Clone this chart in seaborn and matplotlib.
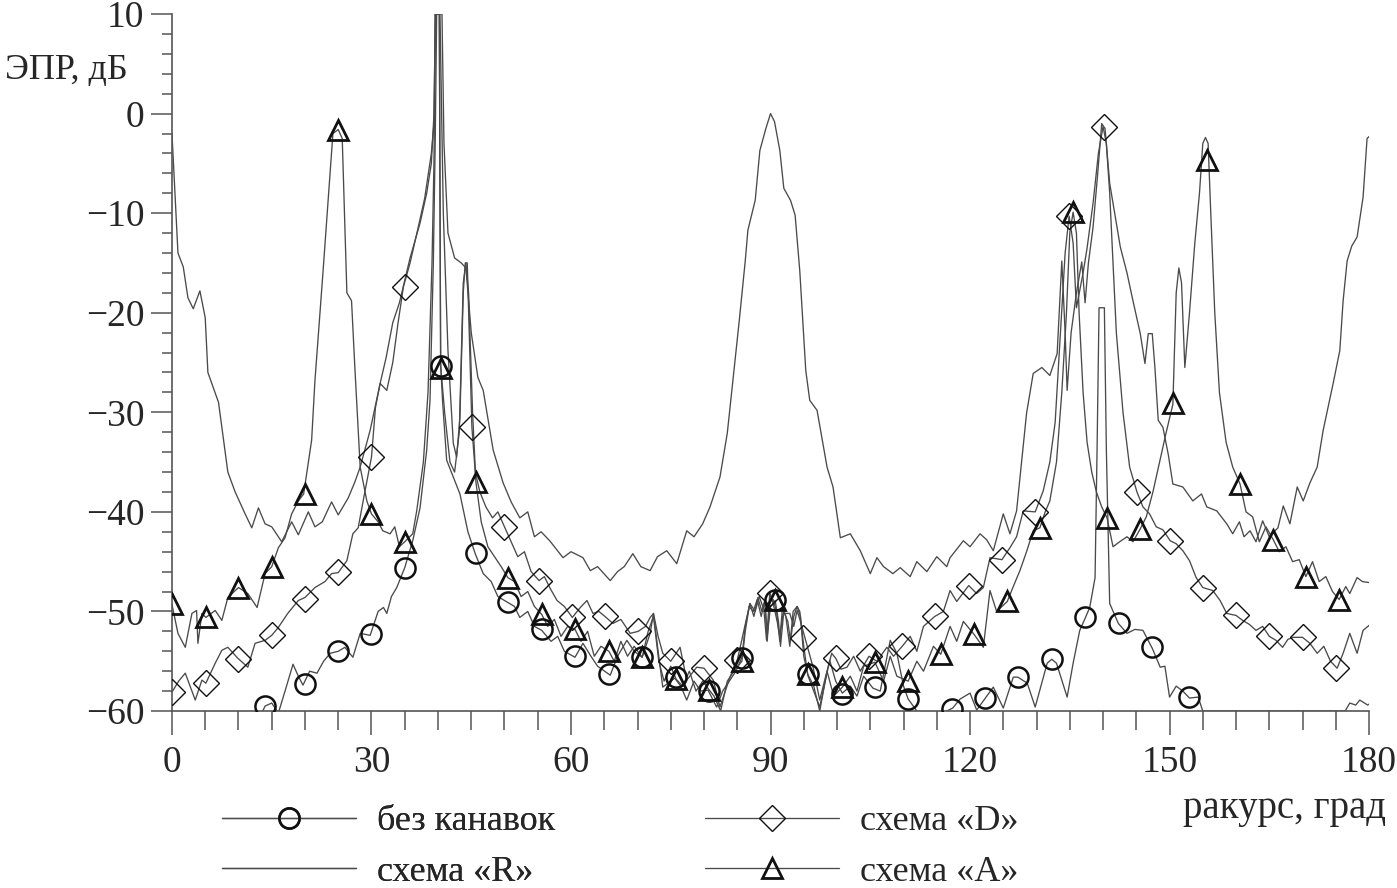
"""
RCS (ЭПР) vs aspect angle for four groove schemes.
Lines are drawn with seaborn, hollow markers are overlaid on top.
"""

import pandas as pd
import seaborn as sns
from matplotlib import pyplot as plt
from matplotlib.lines import Line2D

# ---------------------------------------------------------------- data
# (angle, dB); values below -60 are clipped by the view

NONE_CURVE = [(0, -62.0), (12.5, -62.0), (13.3, -60.5), (14.0, -59.5), (15.0, -59.2), (16.0, -60.2),
              (17.0, -58.0), (18.2, -55.3), (19.0, -56.5), (19.7, -57.4), (20.7, -56.0), (21.8, -56.2),
              (22.8, -55.0), (23.8, -54.2), (25.0, -54.0), (26.0, -53.6), (27.2, -54.6), (28.3, -52.2),
              (29.8, -52.4), (31.0, -50.0), (31.8, -49.6), (32.3, -50.2), (33.0, -48.5), (33.8, -47.6),
              (35.0, -45.6), (36.2, -42.9), (37.3, -39.6), (38.3, -33.8), (38.8, -28.8), (39.3, -15.0),
              (39.6, -2.0), (39.8, 10.0), (40.2, 10.0), (40.4, -25.3), (40.7, -29.0), (41.3, -34.8),
              (42.3, -36.5), (43.3, -38.2), (44.5, -42.0), (45.6, -44.2), (46.8, -46.2), (48.0, -47.0),
              (49.0, -48.5), (50.5, -49.1), (51.5, -49.5), (52.3, -50.6), (53.5, -50.0), (54.5, -51.5),
              (55.6, -51.9), (57.0, -53.0), (58.0, -52.5), (59.0, -54.0), (60.6, -54.6), (61.8, -53.2),
              (63.0, -54.5), (64.0, -55.5), (65.9, -56.4), (67.0, -54.5), (68.4, -52.9), (69.5, -54.0),
              (70.7, -54.6), (71.9, -52.2), (72.4, -50.2), (73.1, -54.0), (73.8, -57.6), (75.6, -56.7),
              (76.5, -57.5), (77.4, -58.9), (78.5, -57.0), (79.5, -58.0), (80.6, -57.9), (81.9, -59.6),
              (82.8, -58.0), (83.8, -57.0), (84.8, -56.0), (85.7, -54.6), (86.2, -51.5), (86.9, -49.2),
              (87.5, -50.5), (88.1, -48.6), (88.7, -50.0), (89.2, -48.8), (89.5, -53.0), (89.9, -49.0),
              (90.4, -48.8), (90.9, -50.0), (91.4, -53.0), (91.8, -49.5), (92.3, -50.5), (92.9, -53.5),
              (93.4, -50.0), (94.0, -49.5), (94.4, -50.0), (95.0, -53.5), (95.6, -56.4), (96.5, -58.0),
              (97.4, -59.6), (98.9, -54.9), (99.8, -57.0), (100.8, -58.2), (102.0, -57.5), (103.0, -58.5),
              (104.0, -56.5), (105.4, -57.7), (106.5, -58.0), (108.0, -52.9), (109.0, -54.2), (110.0, -57.5),
              (110.7, -58.8), (112.0, -60.0), (113.0, -61.0), (115.5, -61.0), (116.5, -60.0), (117.4, -59.7),
              (118.5, -58.8), (120.0, -58.2), (121.0, -59.9), (122.3, -58.7), (123.5, -57.6), (125.0, -59.7),
              (126.5, -56.6), (127.2, -56.6), (128.6, -57.2), (129.8, -59.6), (131.6, -55.2), (132.3, -54.8),
              (133.0, -55.2), (134.6, -58.6), (135.5, -55.2), (136.5, -51.9), (137.3, -50.7), (138.0, -49.6),
              (138.8, -46.6), (139.1, -33.8), (139.4, -19.5), (140.2, -19.5), (140.5, -33.8), (141.0, -49.2),
              (142.3, -51.2), (143.6, -52.2), (144.8, -51.8), (146.0, -51.9), (147.4, -53.7), (148.6, -55.6),
              (149.3, -55.5), (150.0, -58.6), (151.0, -57.5), (152.0, -58.0), (153.0, -58.7), (154.3, -58.6),
              (155.0, -60.0), (176.4, -60.0), (177.1, -59.2), (178.0, -59.4), (178.6, -58.9), (179.8, -59.4),
              (180.0, -59.3)]
NONE_MARKS = [(14.0, -59.5), (20.0, -57.3), (25.0, -54.0), (29.9, -52.3), (35.0, -45.6), (40.4, -25.3),
              (45.7, -44.1), (50.5, -49.1), (55.6, -51.8), (60.6, -54.5), (65.7, -56.3), (70.7, -54.6),
              (75.8, -56.6), (80.8, -58.0), (85.7, -54.7), (90.7, -48.8), (95.6, -56.3), (100.8, -58.3),
              (105.7, -57.6), (110.7, -58.8), (117.3, -59.8), (122.3, -58.7), (127.2, -56.6), (132.3, -54.8),
              (137.3, -50.6), (142.4, -51.2), (147.4, -53.6), (153.0, -58.6)]

R_CURVE = [(0, -2.0), (0.5, -8.7), (0.9, -14.0), (1.7, -15.4), (2.4, -18.5), (3.2, -19.6), (4.2, -17.8),
           (5.0, -20.5), (5.4, -26.0), (6.2, -27.5), (7.0, -29.0), (8.4, -36.0), (9.5, -38.0), (11.0, -40.2),
           (12.0, -41.6), (13.0, -39.6), (14.0, -41.2), (15.0, -41.5), (16.5, -43.0), (18.0, -41.0),
           (19.0, -42.3), (20.5, -40.0), (21.5, -41.5), (22.6, -41.0), (24.0, -39.0), (25.0, -40.3),
           (26.5, -38.6), (27.5, -37.0), (28.3, -35.5), (29.8, -31.8), (31.3, -27.1), (32.2, -24.5),
           (33.2, -21.0), (34.2, -19.0), (35.8, -14.5), (37.3, -11.0), (38.3, -8.0), (39.0, -5.0),
           (39.4, 0.0), (39.6, 10.0), (40.6, 10.0), (40.9, -3.0), (41.5, -12.0), (42.5, -14.5), (43.5, -15.0),
           (44.2, -15.5), (45.0, -22.0), (46.0, -26.5), (46.8, -27.8), (48.3, -33.8), (49.8, -37.1),
           (51.0, -39.0), (52.3, -40.6), (53.5, -40.0), (54.5, -42.5), (55.5, -42.0), (56.8, -42.9),
           (58.8, -44.6), (60.0, -44.0), (61.8, -44.6), (62.9, -45.9), (64.0, -45.5), (65.9, -46.9),
           (67.0, -46.0), (68.0, -45.5), (69.3, -44.2), (70.5, -45.5), (71.9, -45.9), (73.0, -44.5),
           (74.4, -43.9), (75.9, -45.2), (77.4, -41.9), (78.5, -42.5), (79.8, -41.2), (80.9, -39.5),
           (82.4, -36.5), (83.5, -32.1), (84.5, -25.8), (85.3, -20.8), (86.2, -14.8), (86.6, -11.7),
           (87.7, -8.7), (88.4, -3.7), (89.3, -1.5), (90.0, 0.0), (90.6, -0.8), (91.4, -3.7), (92.0, -7.5),
           (93.0, -8.7), (93.7, -10.2), (94.4, -15.8), (95.3, -25.8), (95.9, -28.8), (97.0, -29.8),
           (98.5, -35.5), (99.4, -37.5), (100.5, -42.6), (102.0, -42.2), (103.5, -43.9), (105.0, -46.2),
           (106.0, -44.6), (107.0, -45.5), (108.4, -46.2), (109.5, -45.6), (111.0, -46.5), (112.0, -45.0),
           (113.5, -46.0), (115.0, -44.5), (116.5, -45.5), (117.0, -44.6), (119.0, -42.9), (120.0, -43.5),
           (121.5, -42.2), (122.5, -42.8), (123.5, -43.9), (125.0, -40.2), (126.0, -42.2), (127.0, -39.9),
           (128.5, -30.1), (129.5, -26.1), (130.8, -25.5), (132.0, -26.3), (133.1, -24.1), (133.8, -14.8),
           (134.3, -22.0), (134.6, -27.8), (135.2, -22.0), (136.0, -18.0), (136.8, -14.9), (137.3, -19.0),
           (137.8, -15.0), (138.5, -11.4), (139.2, -6.0), (139.8, -1.0), (140.3, -1.5), (141.0, -7.0),
           (142.6, -13.4), (143.6, -16.0), (144.5, -18.8), (145.6, -22.1), (146.3, -25.1), (146.8, -22.1),
           (147.4, -22.1), (147.8, -25.5), (148.3, -30.8), (149.0, -31.5), (149.8, -34.2), (150.5, -37.2),
           (152.0, -37.5), (153.5, -38.9), (154.8, -38.2), (155.6, -39.5), (157.1, -39.9), (158.6, -41.2),
           (159.5, -42.2), (160.5, -41.0), (161.2, -42.5), (162.1, -41.9), (163.0, -43.0), (164.0, -40.9),
           (165.0, -42.5), (166.3, -41.6), (167.1, -39.4), (168.1, -41.2), (169.2, -37.5), (170.1, -38.9),
           (171.1, -37.1), (172.2, -35.5), (173.1, -31.8), (174.6, -27.1), (175.6, -23.8), (176.1, -18.8),
           (176.7, -14.8), (177.4, -13.3), (178.2, -12.4), (179.1, -8.4), (179.7, -2.5), (180.0, -2.3)]

D_CURVE = [(0.0, -58.1), (1.0, -57.0), (2.0, -56.2), (3.5, -58.9), (4.5, -56.9), (5.1, -57.2), (6.5, -55.2),
           (7.5, -53.9), (8.4, -53.6), (9.9, -54.7), (11.4, -55.6), (12.5, -53.2), (14.0, -52.9),
           (15.0, -52.4), (16.0, -51.6), (17.4, -50.2), (19.0, -48.9), (20.0, -48.6), (21.5, -47.6),
           (23.0, -47.0), (24.0, -46.2), (25.0, -46.1), (26.3, -44.9), (27.2, -42.2), (28.0, -41.6),
           (29.0, -38.0), (30.0, -34.5), (30.6, -29.5), (31.3, -27.1), (32.3, -27.8), (33.2, -25.0),
           (34.0, -21.0), (34.8, -17.4), (35.8, -15.0), (37.0, -11.5), (38.0, -8.5), (39.0, -4.0),
           (39.4, -1.0), (39.6, 10.0), (40.3, 10.0), (40.8, -10.0), (41.5, -23.8), (42.3, -33.1),
           (42.8, -34.5), (43.3, -30.5), (43.8, -18.0), (44.1, -15.0), (44.4, -15.0), (44.7, -22.0),
           (45.1, -31.5), (45.6, -36.0), (46.3, -38.0), (47.2, -39.5), (48.2, -40.6), (49.0, -40.0),
           (50.0, -41.5), (51.0, -43.0), (52.0, -44.5), (53.0, -44.0), (54.0, -46.0), (55.2, -46.9),
           (56.0, -46.5), (56.8, -47.6), (57.9, -48.9), (59.0, -49.5), (60.2, -50.6), (61.4, -49.6),
           (62.4, -48.9), (63.3, -50.2), (64.2, -50.0), (65.1, -50.5), (66.3, -51.2), (67.5, -50.8),
           (68.9, -52.2), (70.1, -52.0), (71.2, -51.5), (71.9, -50.6), (72.4, -50.2), (73.1, -52.5),
           (73.8, -54.2), (75.0, -55.0), (76.4, -53.6), (77.4, -56.9), (78.9, -55.6), (80.0, -55.7),
           (81.4, -56.9), (82.4, -59.6), (83.9, -56.6), (85.0, -54.9), (85.9, -52.2), (86.9, -49.2),
           (87.7, -50.0), (88.3, -48.5), (89.0, -49.8), (89.4, -52.9), (89.9, -48.1), (90.5, -49.5),
           (91.0, -51.0), (91.4, -52.5), (91.9, -50.2), (92.9, -50.2), (93.5, -51.5), (94.0, -49.9),
           (94.5, -51.0), (95.2, -52.7), (96.4, -55.6), (97.4, -58.9), (98.3, -56.5), (99.2, -54.2),
           (99.8, -54.7), (100.6, -55.8), (101.5, -55.6), (102.5, -54.5), (103.5, -56.0), (104.8, -54.5),
           (106.0, -55.0), (107.5, -53.6), (108.5, -54.5), (109.8, -53.5), (111.0, -52.5), (112.0, -54.0),
           (113.0, -51.5), (114.7, -50.5), (116.0, -50.0), (117.0, -47.9), (118.0, -49.0), (119.8, -47.4),
           (121.0, -48.2), (122.0, -47.6), (123.0, -44.6), (124.8, -44.8), (126.0, -43.6), (127.0, -42.5),
           (128.0, -39.9), (129.8, -40.0), (131.0, -37.9), (132.0, -35.0), (132.8, -31.0), (133.6, -22.0),
           (134.3, -14.0), (134.9, -10.3), (135.5, -13.0), (136.0, -19.5), (137.0, -16.0), (137.6, -13.5),
           (138.5, -9.0), (139.3, -4.0), (140.0, -1.3), (140.5, -3.0), (141.0, -8.0), (141.5, -15.0),
           (142.0, -22.0), (143.0, -30.0), (144.0, -35.5), (145.1, -38.0), (146.0, -39.5), (147.0, -40.2),
           (148.0, -41.5), (149.0, -41.8), (150.1, -42.9), (151.0, -43.2), (152.0, -43.9), (153.0, -44.9),
           (154.0, -46.6), (155.0, -47.6), (156.5, -47.9), (157.6, -48.9), (158.6, -50.2), (160.0, -50.4),
           (161.0, -50.9), (162.0, -51.3), (163.0, -51.9), (164.0, -51.5), (165.0, -52.5), (166.0, -52.9),
           (167.0, -53.6), (167.8, -52.8), (168.6, -52.6), (170.0, -52.6), (171.1, -53.2), (172.2, -54.2),
           (173.2, -53.5), (174.2, -55.0), (175.2, -55.7), (176.1, -54.2), (177.1, -52.2), (178.2, -54.2),
           (179.1, -51.9), (180.0, -51.4)]
D_MARKS = [(0.0, -58.1), (5.1, -57.2), (10.0, -54.8), (15.0, -52.4), (20.0, -48.7), (25.0, -46.0),
           (30.0, -34.5), (35.0, -17.4), (45.1, -31.5), (50.0, -41.5), (55.2, -46.9), (60.2, -50.6),
           (65.1, -50.5), (70.1, -52.0), (75.0, -55.0), (80.0, -55.7), (85.0, -54.9), (89.9, -48.1),
           (94.9, -52.7), (99.8, -54.7), (104.8, -54.5), (109.8, -53.5), (114.7, -50.5), (119.8, -47.4),
           (124.8, -44.8), (129.8, -40.0), (134.9, -10.3), (140.2, -1.3), (145.1, -38.0), (150.1, -42.9),
           (155.0, -47.6), (160.0, -50.4), (165.0, -52.5), (170.0, -52.6), (175.0, -55.7)]

A_CURVE = [(0.0, -49.3), (0.9, -52.2), (2.0, -53.6), (3.0, -50.2), (3.7, -49.9), (3.9, -53.2), (4.5, -50.2),
           (5.1, -50.6), (6.5, -49.9), (7.5, -50.9), (8.4, -48.6), (10.0, -47.6), (11.4, -48.2),
           (12.8, -49.6), (14.0, -46.2), (15.0, -45.5), (16.0, -43.6), (17.0, -42.6), (18.0, -40.2),
           (19.0, -38.9), (19.8, -38.2), (21.0, -32.8), (21.5, -26.8), (22.7, -16.0), (24.2, -2.0),
           (25.0, -1.6), (25.6, -2.5), (26.3, -18.0), (27.0, -18.8), (27.5, -25.5), (28.3, -35.5),
           (29.3, -38.9), (30.0, -40.2), (31.0, -41.0), (31.7, -41.9), (32.8, -42.2), (33.5, -41.5),
           (34.2, -43.5), (35.0, -43.0), (36.2, -42.2), (36.8, -39.9), (37.8, -35.0), (38.5, -28.0),
           (39.1, -15.0), (39.4, -4.7), (39.6, 10.0), (40.2, 10.0), (40.4, -25.3), (41.0, -30.0),
           (41.8, -35.0), (42.5, -36.0), (43.2, -32.0), (43.8, -17.0), (44.2, -15.0), (44.6, -18.0),
           (45.2, -30.0), (45.7, -37.0), (46.5, -41.0), (47.5, -43.5), (48.5, -44.5), (49.5, -45.5),
           (50.5, -46.6), (51.5, -47.0), (52.5, -48.5), (53.5, -48.0), (54.5, -49.5), (55.6, -50.3),
           (56.5, -51.5), (57.5, -50.8), (58.5, -52.5), (59.5, -51.5), (60.6, -51.8), (61.5, -53.0),
           (62.5, -52.0), (63.5, -54.5), (64.5, -53.5), (65.7, -54.0), (66.5, -55.0), (67.5, -53.0),
           (68.5, -54.5), (69.5, -53.5), (70.7, -54.6), (71.6, -52.0), (72.4, -50.5), (73.2, -55.0),
           (74.0, -57.0), (75.0, -55.5), (75.8, -56.8), (76.8, -57.5), (77.8, -56.0), (78.8, -58.0),
           (79.8, -57.0), (80.8, -57.9), (81.5, -58.5), (82.5, -60.0), (83.5, -57.0), (84.5, -56.0),
           (85.7, -55.0), (86.2, -52.0), (86.8, -49.5), (87.4, -50.0), (88.0, -48.8), (88.6, -50.5),
           (89.1, -49.0), (89.5, -52.5), (90.0, -49.5), (90.7, -48.9), (91.2, -51.0), (91.5, -53.5),
           (92.0, -50.0), (92.6, -51.0), (93.0, -53.0), (93.5, -50.5), (94.0, -49.5), (94.5, -50.5),
           (95.0, -54.5), (95.6, -56.3), (96.5, -57.5), (97.4, -60.0), (98.5, -56.0), (99.5, -58.5),
           (100.8, -57.6), (102.0, -56.5), (103.0, -58.0), (104.0, -55.5), (105.7, -55.1), (107.0, -57.0),
           (108.0, -54.5), (109.0, -56.5), (110.7, -57.0), (112.0, -55.0), (113.0, -56.0), (114.5, -53.5),
           (115.6, -54.3), (117.0, -51.5), (118.0, -53.0), (119.0, -51.0), (120.6, -52.3), (122.0, -53.6),
           (123.0, -47.9), (124.0, -50.0), (125.6, -49.0), (126.5, -47.5), (127.5, -45.9), (128.5, -44.0),
           (129.5, -41.9), (130.5, -41.6), (131.3, -40.0), (132.0, -38.9), (133.0, -35.0), (133.8, -28.0),
           (134.5, -20.0), (135.0, -12.0), (135.5, -9.9), (136.0, -12.0), (136.4, -20.0), (137.0, -28.0),
           (137.6, -33.0), (138.3, -36.0), (139.0, -38.0), (139.8, -39.5), (140.6, -40.6), (141.5, -43.5),
           (142.5, -43.0), (143.6, -42.5), (144.5, -43.0), (145.6, -41.7), (146.5, -40.5), (147.5, -38.0),
           (148.5, -35.0), (149.5, -32.0), (150.5, -29.2), (151.0, -18.0), (151.4, -15.5), (151.8, -17.0),
           (152.3, -25.5), (153.0, -20.0), (153.8, -13.0), (154.5, -8.0), (155.0, -3.0), (155.4, -2.4),
           (155.8, -3.0), (156.2, -10.0), (156.8, -20.0), (157.5, -28.0), (158.5, -33.0), (159.5, -35.5),
           (160.6, -37.2), (161.5, -40.0), (162.5, -40.5), (163.5, -43.0), (164.5, -41.5), (165.6, -42.8),
           (166.5, -44.0), (167.5, -43.5), (168.5, -45.0), (169.5, -44.8), (170.5, -46.5), (171.5, -45.0),
           (172.5, -47.0), (173.5, -46.5), (174.5, -48.0), (175.5, -48.8), (176.5, -47.5), (177.1, -48.2),
           (178.2, -46.6), (179.0, -47.0), (180.0, -47.1)]
A_MARKS = [(0.0, -49.3), (5.1, -50.6), (10.0, -47.6), (15.0, -45.5), (20.0, -38.2), (25.0, -1.6),
           (30.0, -40.2), (35.0, -43.0), (40.4, -25.5), (45.7, -37.0), (50.5, -46.6), (55.6, -50.3),
           (60.6, -51.8), (65.7, -54.0), (70.7, -54.6), (75.8, -56.8), (80.8, -57.9), (85.7, -55.0),
           (90.7, -48.9), (95.6, -56.3), (100.8, -57.6), (105.7, -55.1), (110.7, -57.0), (115.6, -54.3),
           (120.6, -52.3), (125.6, -49.0), (130.5, -41.6), (135.5, -9.9), (140.6, -40.6), (145.6, -41.7),
           (150.5, -29.1), (155.6, -4.7), (160.6, -37.2), (165.6, -42.8), (170.5, -46.5), (175.5, -48.8)]

LABELS = ["без канавок", "схема «R»", "схема «D»", "схема «A»"]
X_TICKS = [0, 30, 60, 90, 120, 150, 180]
Y_TICKS = [-60, -50, -40, -30, -20, -10, 0, 10]

# ---------------------------------------------------------------- style
sns.set_theme(style="white")
plt.rcParams["font.family"] = ["Liberation Serif", "DejaVu Serif"]
plt.rcParams["font.size"] = 26
plt.rcParams["axes.unicode_minus"] = True

LINE_COLOR = "#4a4a4a"
MARK_COLOR = "#111111"

fig = plt.figure(figsize=(13.97, 8.88), dpi=100)
ax = fig.add_axes([0.1231, 0.1993, 0.8569, 0.7849])

series = [
    (NONE_CURVE, NONE_MARKS, dict(marker="o", ms=14.5, mew=1.8)),
    (R_CURVE, None, None),
    (D_CURVE, D_MARKS, dict(marker="D", ms=13, mew=1.0)),
    (A_CURVE, A_MARKS, dict(marker="^", ms=15, mew=2.0)),
]

for curve, marks, mstyle in series:
    df = pd.DataFrame(curve, columns=["angle", "rcs"])
    sns.lineplot(data=df, x="angle", y="rcs", ax=ax, sort=False, estimator=None,
                 color=LINE_COLOR, lw=0.95, zorder=2)
    if marks is not None:
        mk = pd.DataFrame(marks, columns=["angle", "rcs"])
        ax.plot(mk["angle"], mk["rcs"], ls="none", mfc="none", mec=MARK_COLOR,
                zorder=3, clip_on=True, **mstyle)

ax.set_xlim(0, 180)
ax.set_ylim(-60, 10)
ax.set_xticks(X_TICKS)
ax.set_xticks(range(0, 181, 5), minor=True)
ax.set_yticks(Y_TICKS)
ax.set_yticks(range(-60, 11, 2), minor=True)
ax.set_xlabel("")
ax.set_ylabel("")

for side in ["top", "right"]:
    ax.spines[side].set_visible(False)
for side in ["left", "bottom"]:
    ax.spines[side].set_color("#555555")
    ax.spines[side].set_linewidth(1.2)

ax.tick_params(axis="x", which="major", direction="out", length=17, width=1.1, pad=8,
               color="#555555", labelsize=27, bottom=True)
ax.tick_params(axis="x", which="minor", direction="out", length=14, width=1.1,
               color="#555555", bottom=True)
ax.tick_params(axis="y", which="major", direction="out", length=15, width=1.1, pad=5,
               color="#555555", labelsize=27, left=True)
ax.tick_params(axis="y", which="minor", direction="out", length=7.5, width=1.1,
               color="#555555", left=True)

# axis captions sit outside the plot like in the original
fig.text(5 / 1397, 1 - 70 / 888, "ЭПР, дБ", ha="left", va="center", fontsize=26)
fig.text(1386 / 1397, 1 - 808 / 888, "ракурс, град", ha="right", va="center", fontsize=28)

# legend: two separate columns under the plot
handles = [
    Line2D([], [], color=LINE_COLOR, lw=0.95, marker="o", ms=14.5, mew=1.8, mfc="none", mec=MARK_COLOR),
    Line2D([], [], color=LINE_COLOR, lw=0.95),
    Line2D([], [], color=LINE_COLOR, lw=0.95, marker="D", ms=13, mew=1.0, mfc="none", mec=MARK_COLOR),
    Line2D([], [], color=LINE_COLOR, lw=0.95, marker="^", ms=15, mew=2.0, mfc="none", mec=MARK_COLOR),
]
leg_kw = dict(frameon=False, loc="upper left", fontsize=26, handlelength=3.7,
              handletextpad=0.6, labelspacing=0.48, borderpad=0, borderaxespad=0)
leg1 = fig.legend(handles[:2], LABELS[:2], bbox_to_anchor=(222 / 1397, 1 - 805 / 888), **leg_kw)
fig.add_artist(leg1)
fig.legend(handles[2:], LABELS[2:], bbox_to_anchor=(705 / 1397, 1 - 805 / 888), **leg_kw)

fig.savefig("out.png", dpi=100)
